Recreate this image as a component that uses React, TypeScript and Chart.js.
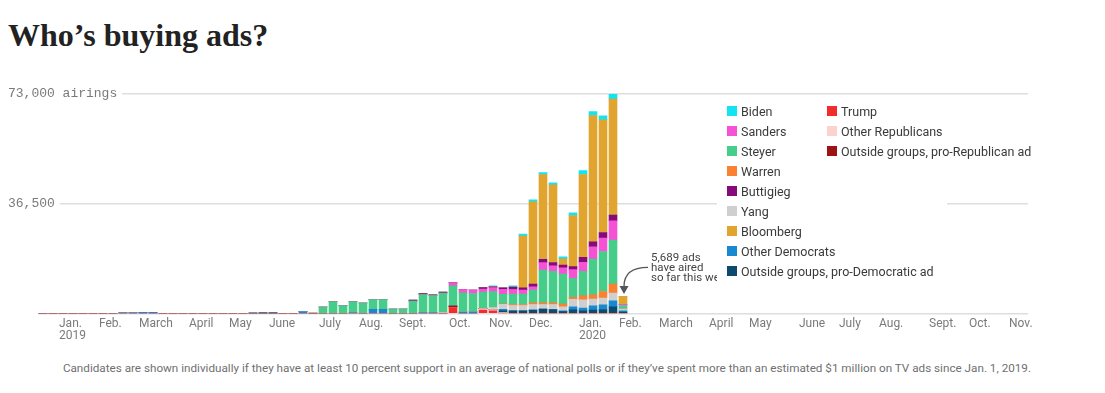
import React, { useEffect, useRef } from 'react';
import { Chart, registerables } from 'chart.js';

Chart.register(...registerables);

// ---------- DATA ----------
// Weekly categories (weeks start on Monday), Dec. 17, 2018 -> Nov. 9, 2020
const FIRST_WEEK = '2018-12-17';
const WEEK_COUNT = 99;
const weekStarts: string[] = [];
for (let k = 0; k < WEEK_COUNT; k++) {
  const d = new Date(Date.parse(FIRST_WEEK + 'T00:00:00Z') + k * 7 * 86400000);
  weekStarts.push(d.toISOString().slice(0, 10));
}

// Month tick labels (shown under the week containing the 1st of the month)
const monthTickDates = [
  '2019-01-01', '2019-02-01', '2019-03-01', '2019-04-01', '2019-05-01', '2019-06-01',
  '2019-07-01', '2019-08-01', '2019-09-01', '2019-10-01', '2019-11-01', '2019-12-01',
  '2020-01-01', '2020-02-01', '2020-03-01', '2020-04-01', '2020-05-01', '2020-06-01',
  '2020-07-01', '2020-08-01', '2020-09-01', '2020-10-01', '2020-11-01',
];
const monthTickLabels: (string | string[])[] = [
  ['Jan.', '2019'], 'Feb.', 'March', 'April', 'May', 'June', 'July', 'Aug.', 'Sept.', 'Oct.', 'Nov.', 'Dec.',
  ['Jan.', '2020'], 'Feb.', 'March', 'April', 'May', 'June', 'July', 'Aug.', 'Sept.', 'Oct.', 'Nov.',
];

const yTicks = [0, 36500, 73000];
const yUnit = 'airings';

// Airings per week, by buyer (weeks 0..58)
const trump = [
  0, 0, 0, 0, 0, 0, 0, 0, 0, 0,
  0, 0, 0, 0, 0, 0, 0, 0, 0, 0,
  0, 0, 0, 0, 0, 0, 0, 0, 0, 0,
  0, 0, 0, 0, 0, 0, 0, 0, 0, 0,
  0, 1900, 0, 0, 1100, 900, 0, 0, 0, 0,
  0, 0, 0, 0, 0, 0, 0, 0, 0,
];
const otherRepublicans = [
  0, 0, 0, 0, 0, 0, 0, 0, 0, 0,
  0, 0, 0, 0, 0, 0, 0, 0, 0, 0,
  0, 0, 0, 0, 0, 0, 0, 0, 0, 0,
  0, 0, 0, 0, 0, 0, 0, 0, 0, 0,
  0, 0, 0, 0, 500, 400, 300, 0, 0, 0,
  0, 0, 0, 0, 0, 0, 0, 0, 0,
];
const outsideRepublican = [
  0, 0, 0, 0, 0, 0, 0, 0, 0, 0,
  0, 0, 0, 0, 0, 0, 0, 0, 0, 0,
  0, 0, 0, 0, 0, 0, 0, 0, 0, 0,
  0, 0, 0, 0, 0, 0, 0, 0, 0, 0,
  0, 550, 0, 0, 0, 0, 0, 0, 0, 0,
  0, 0, 0, 0, 0, 0, 0, 0, 0,
];
const outsideDemocratic = [
  0, 0, 0, 0, 0, 0, 0, 0, 0, 0,
  0, 0, 0, 0, 0, 0, 0, 0, 0, 0,
  0, 0, 150, 150, 0, 0, 0, 0, 0, 0,
  0, 0, 0, 0, 0, 0, 0, 0, 0, 0,
  0, 0, 0, 0, 0, 0, 550, 880, 880, 1110,
  1440, 1330, 600, 1200, 900, 1110, 1330, 2220, 440,
];
const otherDemocrats = [
  0, 0, 0, 0, 0, 0, 0, 0, 300, 300,
  350, 350, 0, 0, 0, 0, 0, 0, 0, 0,
  0, 150, 0, 0, 0, 0, 600, 0, 0, 0,
  0, 300, 0, 1400, 1400, 0, 0, 0, 300, 300,
  0, 0, 450, 550, 0, 0, 550, 0, 0, 0,
  0, 0, 300, 1000, 900, 1440, 1550, 2000, 440,
];
const yang = [
  0, 0, 0, 0, 0, 0, 0, 0, 0, 0,
  0, 0, 0, 0, 0, 0, 0, 0, 0, 0,
  0, 0, 0, 0, 0, 0, 0, 100, 0, 0,
  0, 0, 0, 0, 0, 0, 0, 0, 0, 0,
  300, 0, 0, 0, 0, 700, 1650, 1770, 1770, 1890,
  1550, 1660, 1330, 2500, 2770, 2220, 2220, 2550, 550,
];
const warren = [
  0, 0, 0, 0, 0, 0, 0, 0, 0, 0,
  0, 0, 0, 0, 0, 0, 0, 0, 0, 0,
  0, 0, 0, 0, 0, 0, 0, 0, 0, 0,
  0, 0, 0, 0, 0, 0, 0, 0, 0, 0,
  0, 0, 0, 0, 0, 0, 200, 330, 330, 550,
  550, 550, 890, 700, 1330, 1440, 2220, 2990, 0,
];
const steyer = [
  0, 0, 0, 0, 0, 0, 0, 0, 0, 0,
  0, 0, 0, 0, 0, 0, 0, 0, 0, 0,
  0, 0, 0, 0, 0, 0, 0, 0, 2160, 3920,
  2600, 3600, 3490, 3200, 3200, 1500, 1500, 4100, 6000, 5650,
  6450, 6750, 6430, 6100, 5550, 5300, 3100, 3450, 3440, 4210,
  10900, 10500, 9980, 6300, 8090, 11860, 13300, 14630, 1220,
];
const sanders = [
  0, 0, 0, 0, 0, 0, 0, 0, 0, 0,
  0, 0, 0, 0, 0, 0, 0, 0, 0, 0,
  0, 0, 0, 0, 0, 0, 0, 0, 0, 0,
  0, 0, 0, 0, 0, 0, 0, 0, 0, 0,
  0, 1000, 1100, 1100, 1000, 1300, 1650, 1550, 1330, 1110,
  2500, 1800, 2110, 2900, 2990, 4100, 4430, 6430, 440,
];
const buttigieg = [
  0, 0, 0, 0, 0, 0, 0, 0, 0, 0,
  0, 0, 0, 0, 0, 0, 0, 0, 0, 0,
  0, 0, 0, 0, 0, 0, 0, 0, 0, 0,
  0, 0, 0, 0, 0, 0, 0, 350, 300, 300,
  350, 0, 0, 0, 450, 300, 550, 780, 770, 890,
  1110, 1110, 890, 1000, 1660, 1660, 1880, 1880, 0,
];
const bloomberg = [
  0, 0, 0, 0, 0, 0, 0, 0, 0, 0,
  0, 0, 0, 0, 0, 0, 0, 0, 0, 0,
  0, 0, 0, 0, 0, 0, 0, 0, 0, 0,
  0, 0, 0, 0, 0, 0, 0, 0, 0, 0,
  0, 0, 0, 0, 0, 0, 0, 0, 17200, 27400,
  28170, 25830, 2110, 17000, 27600, 42010, 37470, 38600, 2599,
];
const biden = [
  0, 0, 0, 0, 0, 0, 0, 0, 0, 0,
  0, 0, 0, 0, 0, 0, 0, 0, 0, 0,
  0, 0, 0, 0, 0, 0, 0, 0, 0, 0,
  0, 0, 0, 0, 0, 0, 0, 0, 0, 0,
  0, 0, 0, 0, 0, 300, 0, 450, 660, 660,
  660, 660, 660, 890, 1330, 1330, 1330, 1550, 0,
];

// stacking order: bottom -> top
const seriesNames = [
  'Trump', 'Other Republicans', 'Outside groups, pro-Republican ad',
  'Outside groups, pro-Democratic ad', 'Other Democrats', 'Yang', 'Warren',
  'Steyer', 'Sanders', 'Buttigieg', 'Bloomberg', 'Biden',
];
const seriesValues = [
  trump, otherRepublicans, outsideRepublican, outsideDemocratic, otherDemocrats,
  yang, warren, steyer, sanders, buttigieg, bloomberg, biden,
];
const seriesColors: Record<string, string> = {
  'Biden': '#14e3f0',
  'Sanders': '#f552d4',
  'Steyer': '#47cd8a',
  'Warren': '#fb8031',
  'Buttigieg': '#850b7b',
  'Yang': '#cfcfcf',
  'Bloomberg': '#e1a52f',
  'Other Democrats': '#1689d0',
  'Outside groups, pro-Democratic ad': '#0c4a6e',
  'Trump': '#f42b2b',
  'Other Republicans': '#fdd2ce',
  'Outside groups, pro-Republican ad': '#9d1212',
};
const legendColumn1 = ['Biden', 'Sanders', 'Steyer', 'Warren', 'Buttigieg', 'Yang', 'Bloomberg', 'Other Democrats', 'Outside groups, pro-Democratic ad'];
const legendColumn2 = ['Trump', 'Other Republicans', 'Outside groups, pro-Republican ad'];

const titleText = 'Who’s buying ads?';
const noteText = 'Candidates are shown individually if they have at least 10 percent support in an average of national polls or if they’ve spent more than an estimated $1 million on TV ads since Jan. 1, 2019.';

// ---------- helpers ----------
const fmt = (n: number) => String(Math.round(n)).replace(/\B(?=(\d{3})+(?!\d))/g, ',');

const tickMap: Record<number, string | string[]> = {};
monthTickDates.forEach((ds, k) => {
  const t = Date.parse(ds + 'T00:00:00Z');
  for (let i = 0; i < weekStarts.length; i++) {
    const s = Date.parse(weekStarts[i] + 'T00:00:00Z');
    if (t >= s && t < s + 7 * 86400000) { tickMap[i] = monthTickLabels[k]; break; }
  }
});

const lastIndex = biden.length - 1;
const lastTotal = seriesValues.reduce((a, s) => a + s[lastIndex], 0);
const noteLines = [`${fmt(lastTotal)} ads`, 'have aired', 'so far this week'];

const notePlugin = {
  id: 'lastWeekNote',
  afterDatasetsDraw(chart: any) {
    const { ctx, scales } = chart;
    const px = scales.x.getPixelForValue(lastIndex);
    const py = scales.y.getPixelForValue(lastTotal);
    ctx.save();
    ctx.fillStyle = '#444';
    ctx.font = '11.5px Roboto';
    ctx.textBaseline = 'middle';
    ctx.textAlign = 'left';
    noteLines.forEach((l, k) => ctx.fillText(l, px + 28, py - 38.5 + k * 10));
    ctx.strokeStyle = '#555';
    ctx.fillStyle = '#555';
    ctx.lineWidth = 1.3;
    ctx.beginPath();
    ctx.moveTo(px + 25, py - 29);
    ctx.quadraticCurveTo(px + 1, py - 29, px + 1, py - 10);
    ctx.stroke();
    ctx.beginPath();
    ctx.moveTo(px - 3.5, py - 10.5);
    ctx.lineTo(px + 5.5, py - 10.5);
    ctx.lineTo(px + 1, py - 2.5);
    ctx.closePath();
    ctx.fill();
    ctx.restore();
  },
};

function LegendItem({ name }: { name: string }) {
  return (
    <div style={{ display: 'flex', alignItems: 'center', height: 20, whiteSpace: 'nowrap' }}>
      <span style={{ display: 'inline-block', width: 10, height: 10, background: seriesColors[name], marginRight: 4, flex: 'none' }} />
      <span>{name}</span>
    </div>
  );
}

export default function App() {
  const ref = useRef<HTMLCanvasElement | null>(null);

  useEffect(() => {
    if (!ref.current) return;
    const chart = new Chart(ref.current, {
      type: 'bar',
      data: {
        labels: weekStarts,
        datasets: seriesNames.map((name, k) => ({
          label: name,
          data: seriesValues[k],
          backgroundColor: seriesColors[name],
          borderWidth: 0,
          barThickness: 8,
        })),
      },
      options: {
        responsive: false,
        animation: false,
        layout: { padding: { top: 10, right: 20, left: 0, bottom: 0 } },
        plugins: { legend: { display: false }, tooltip: { enabled: false }, title: { display: false } },
        scales: {
          x: {
            stacked: true,
            afterFit: (s: any) => { s.height = 36.5; },
            border: { display: false },
            grid: { display: false, drawTicks: false },
            ticks: {
              autoSkip: false,
              maxRotation: 0,
              minRotation: 0,
              align: 'start',
              labelOffset: -4,
              padding: 4,
              color: '#7a7a7a',
              font: { family: 'Roboto', size: 12, lineHeight: 1 },
              callback: (_v: any, i: number) => tickMap[i] ?? '',
            },
          },
          y: {
            stacked: true,
            min: 0,
            max: yTicks[yTicks.length - 1],
            afterBuildTicks: (s: any) => { s.ticks = yTicks.map((v) => ({ value: v })); },
            afterFit: (s: any) => { s.width = 30; },
            border: { display: false },
            grid: { color: '#dedede', lineWidth: 1.5, drawTicks: false },
            ticks: {
              mirror: true,
              padding: -30,
              crossAlign: 'near',
              color: '#7a7a7a',
              font: { family: 'Liberation Mono', size: 13 },
              showLabelBackdrop: (c: any) => !!c.tick && c.tick.value !== 0,
              backdropColor: '#ffffff',
              backdropPadding: { left: 0, right: 5, top: 0, bottom: 0 },
              callback: (v: any) => {
                const n = Number(v);
                if (n === 0) return '';
                return n === yTicks[yTicks.length - 1] ? `${fmt(n)} ${yUnit}` : fmt(n);
              },
            },
          },
        },
      },
      plugins: [notePlugin],
    } as any);
    return () => chart.destroy();
  }, []);

  return (
    <div style={{ position: 'relative', width: 1089, height: 377, fontFamily: 'Roboto, sans-serif' }}>
      <div style={{ position: 'absolute', left: 0, top: 11, fontFamily: '"Liberation Serif", serif', fontWeight: 700, fontSize: 32, lineHeight: '32px', color: '#222', whiteSpace: 'nowrap' }}>
        {titleText}
      </div>
      <canvas ref={ref} width={1040} height={266} style={{ position: 'absolute', left: 0, top: 76, width: 1040, height: 266 }} />
      <div style={{ position: 'absolute', left: 709, top: 93, width: 230, height: 184, background: '#fff', color: '#3a3a3a', fontSize: 12.5 }}>
        <div style={{ position: 'absolute', left: 10, top: 0 }}>
          {legendColumn1.map((n) => <LegendItem key={n} name={n} />)}
        </div>
        <div style={{ position: 'absolute', left: 110, top: 0 }}>
          {legendColumn2.map((n) => <LegendItem key={n} name={n} />)}
        </div>
      </div>
      <div style={{ position: 'absolute', right: 66, top: 353, color: '#707070', fontSize: 11.7, whiteSpace: 'nowrap', lineHeight: '14px' }}>
        {noteText}
      </div>
    </div>
  );
}
